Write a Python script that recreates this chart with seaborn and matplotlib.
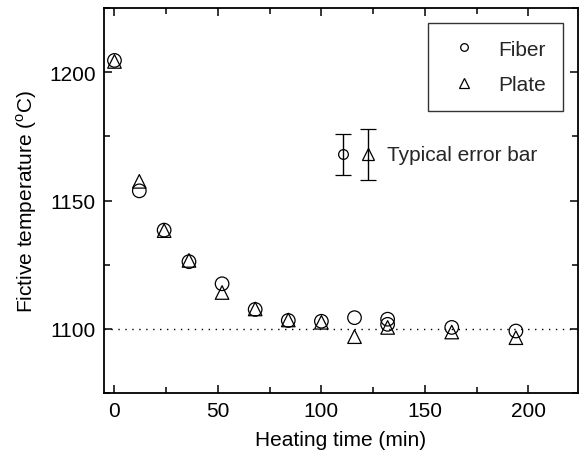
import pandas as pd
import seaborn as sns
import matplotlib.pyplot as plt
from matplotlib.lines import Line2D
from matplotlib.ticker import MultipleLocator

# heating time (min) and fictive temperature (C)
fiber_time = [0, 12, 24, 36, 52, 68, 84, 100, 116, 132, 132, 163, 194]
fiber_temp = [1204.6, 1153.8, 1138.5, 1126.2, 1117.6, 1107.6, 1103.3, 1103.0, 1104.4, 1103.8, 1101.8, 1100.6, 1099.2]
plate_time = [0, 12, 24, 36, 52, 68, 84, 100, 116, 132, 163, 194]
plate_temp = [1204.2, 1157.5, 1138.3, 1126.7, 1114.2, 1107.8, 1103.5, 1102.6, 1097.0, 1100.6, 1098.8, 1096.6]

# typical error bars
err_x = [110.5, 122.5]
err_y = [1168, 1168]
err_size = [8, 10]

sns.set_theme(style="ticks")
plt.rcParams['font.family'] = ['Liberation Sans', 'DejaVu Sans']
plt.rcParams['mathtext.fontset'] = 'custom'
plt.rcParams['mathtext.rm'] = 'Liberation Sans'

df = pd.DataFrame({
    "time": fiber_time + plate_time,
    "temp": fiber_temp + plate_temp,
    "Sample": ["Fiber"] * len(fiber_time) + ["Plate"] * len(plate_time),
})

fig = plt.figure(figsize=(5.85, 4.52), dpi=100)
ax = fig.add_axes([0.178, 0.128, 0.81, 0.852])

ax.axhline(1100, color="black", lw=1.0, ls=(0, (1, 4)), zorder=1)

sns.scatterplot(data=df, x="time", y="temp", style="Sample",
                markers={"Fiber": "o", "Plate": "^"}, s=95,
                facecolor="none", edgecolor="black", linewidth=0.9,
                legend=False, ax=ax, zorder=3)

ax.errorbar(err_x[0], err_y[0], yerr=err_size[0], fmt="o", ms=7, mfc="none",
            mec="black", ecolor="black", elinewidth=1, capsize=5.5, capthick=1, mew=0.9)
ax.errorbar(err_x[1], err_y[1], yerr=err_size[1], fmt="^", ms=8, mfc="none",
            mec="black", ecolor="black", elinewidth=1, capsize=5.5, capthick=1, mew=0.9)
ax.text(131.5, 1168, "Typical error bar", fontsize=15, va="center", ha="left")

ax.set_xlim(-5, 224)
ax.set_ylim(1075, 1225)
ax.xaxis.set_major_locator(MultipleLocator(50))
ax.xaxis.set_minor_locator(MultipleLocator(25))
ax.yaxis.set_major_locator(MultipleLocator(50))
ax.yaxis.set_minor_locator(MultipleLocator(25))
ax.tick_params(which="both", direction="in", top=True, right=True,
               width=1.1, labelsize=15, color="black", labelcolor="black")
ax.tick_params(which="major", length=6, pad=6)
ax.tick_params(which="minor", length=4)
for sp in ax.spines.values():
    sp.set_linewidth(1.3)
    sp.set_color("black")

ax.set_xlabel("Heating time (min)", fontsize=15, color="black", labelpad=7)
ax.set_ylabel(r"Fictive temperature ($^{\rm o}$C)", fontsize=15, color="black", labelpad=7)

handles = [
    Line2D([], [], marker="o", ls="none", ms=5.5, mfc="none", mec="black", mew=0.9, label="Fiber"),
    Line2D([], [], marker="^", ls="none", ms=6.5, mfc="none", mec="black", mew=0.9, label="Plate"),
]
leg = ax.legend(handles=handles, loc="upper right", bbox_to_anchor=(0.968, 0.961),
                borderaxespad=0, fontsize=15, frameon=True, fancybox=False,
                handlelength=1.85, handletextpad=0.75, borderpad=0.8,
                labelspacing=0.8)
leg.get_frame().set_edgecolor("black")
leg.get_frame().set_linewidth(1.0)

fig.savefig("out.png", dpi=100)
